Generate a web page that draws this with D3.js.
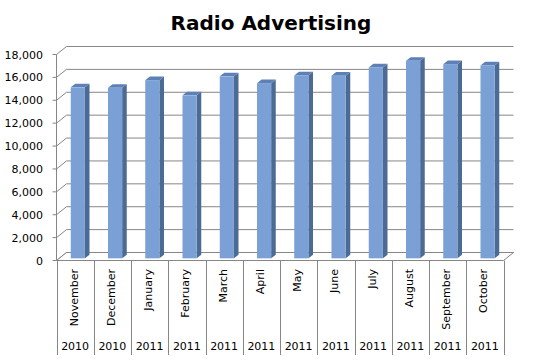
<!DOCTYPE html>
<html>
<head>
<meta charset="utf-8">
<script src="https://cdn.jsdelivr.net/npm/d3@7"></script>
<style>
  body { margin: 0; background: #fff; }
  text { font-family: "DejaVu Sans", Verdana, sans-serif; }
</style>
</head>
<body>
<div id="app"></div>
<script>
var months = ['November', 'December', 'January', 'February', 'March', 'April',
  'May', 'June', 'July', 'August', 'September', 'October'];
var years = ['2010', '2010', '2011', '2011', '2011', '2011',
  '2011', '2011', '2011', '2011', '2011', '2011'];
var values = [14940, 14900, 15570, 14240, 15900, 15310,
  15980, 15960, 16680, 17260, 16970, 16850];
var yTicks = [0, 2000, 4000, 6000, 8000, 10000, 12000, 14000, 16000, 18000];

var W = 535, H = 363;
// depth of the 3d box (back wall offset)
var dx = 10, dy = -8;
var t0 = 0.27, t1 = 0.73;

var svg = d3.select('#app').append('svg')
  .attr('width', W)
  .attr('height', H);

svg.append('text')
  .attr('x', 271)
  .attr('y', 30)
  .attr('text-anchor', 'middle')
  .style('font-size', '20px')
  .style('font-weight', 'bold')
  .text('Radio Advertising');

var x = d3.scaleBand()
  .domain(months.map(function (d, i) { return i; }))
  .range([56.5, 503.5]);

var y = d3.scaleLinear()
  .domain([0, 18000])
  .range([260.5, 54.5]);

var grid = '#868686';

// gridlines on side wall + back wall
yTicks.forEach(function (t) {
  var yy = y(t);
  svg.append('path')
    .attr('d', d3.line()([[x.range()[0], yy], [x.range()[0] + dx, yy + dy], [x.range()[1] + dx, yy + dy]]))
    .attr('fill', 'none')
    .attr('stroke', grid)
    .attr('stroke-width', 1);
});

// floor
var x0 = x.range()[0], x1 = x.range()[1], yb = y(0);
svg.append('path')
  .attr('d', d3.line()([[x0, yb], [x1, yb], [x1 + dx, yb + dy], [x0 + dx, yb + dy]]) + 'Z')
  .attr('fill', '#fff')
  .attr('stroke', grid)
  .attr('stroke-width', 1);

// bars
var bw = x.bandwidth() * 0.38;
var bars = svg.append('g');
values.forEach(function (v, i) {
  var cx = x(i) + x.bandwidth() / 2;
  var fx = cx - bw / 2 + dx * t0, fy = dy * t0;
  var bx = dx * (t1 - t0), by = dy * (t1 - t0);
  var top = y(v) + fy, bot = y(0) + fy;
  // side
  bars.append('path')
    .attr('d', d3.line()([[fx + bw, top], [fx + bw + bx, top + by], [fx + bw + bx, bot + by], [fx + bw, bot]]) + 'Z')
    .attr('fill', '#4b6a94');
  // top
  bars.append('path')
    .attr('d', d3.line()([[fx, top], [fx + bx, top + by], [fx + bw + bx, top + by], [fx + bw, top]]) + 'Z')
    .attr('fill', '#5d81b6');
  // front
  bars.append('rect')
    .attr('x', fx)
    .attr('y', top)
    .attr('width', bw)
    .attr('height', bot - top)
    .attr('fill', '#7ba0d6');
});

// y axis
svg.append('line')
  .attr('x1', x0).attr('x2', x0)
  .attr('y1', y(18000)).attr('y2', y(0))
  .attr('stroke', grid);

yTicks.forEach(function (t) {
  svg.append('line')
    .attr('x1', x0 - 4).attr('x2', x0)
    .attr('y1', y(t)).attr('y2', y(t))
    .attr('stroke', grid);
  svg.append('text')
    .attr('x', 43)
    .attr('y', y(t) + 4)
    .attr('text-anchor', 'end')
    .style('font-size', '11px')
    .text(d3.format(',')(t));
});

// category axis: separators and labels
var cat = svg.append('g');
d3.range(13).forEach(function (i) {
  var xx = i < 12 ? x(i) : x1;
  cat.append('line')
    .attr('x1', Math.round(xx) + 0.5).attr('x2', Math.round(xx) + 0.5)
    .attr('y1', yb).attr('y2', 355)
    .attr('stroke', grid);
});

months.forEach(function (m, i) {
  var cx = x(i) + x.bandwidth() / 2;
  cat.append('text')
    .attr('transform', 'translate(' + (cx + 2.5) + ',269) rotate(-90)')
    .attr('text-anchor', 'end')
    .style('font-size', '11px')
    .text(m);
  cat.append('text')
    .attr('x', cx)
    .attr('y', 350)
    .attr('text-anchor', 'middle')
    .style('font-size', '11px')
    .text(years[i]);
});
</script>
</body>
</html>
